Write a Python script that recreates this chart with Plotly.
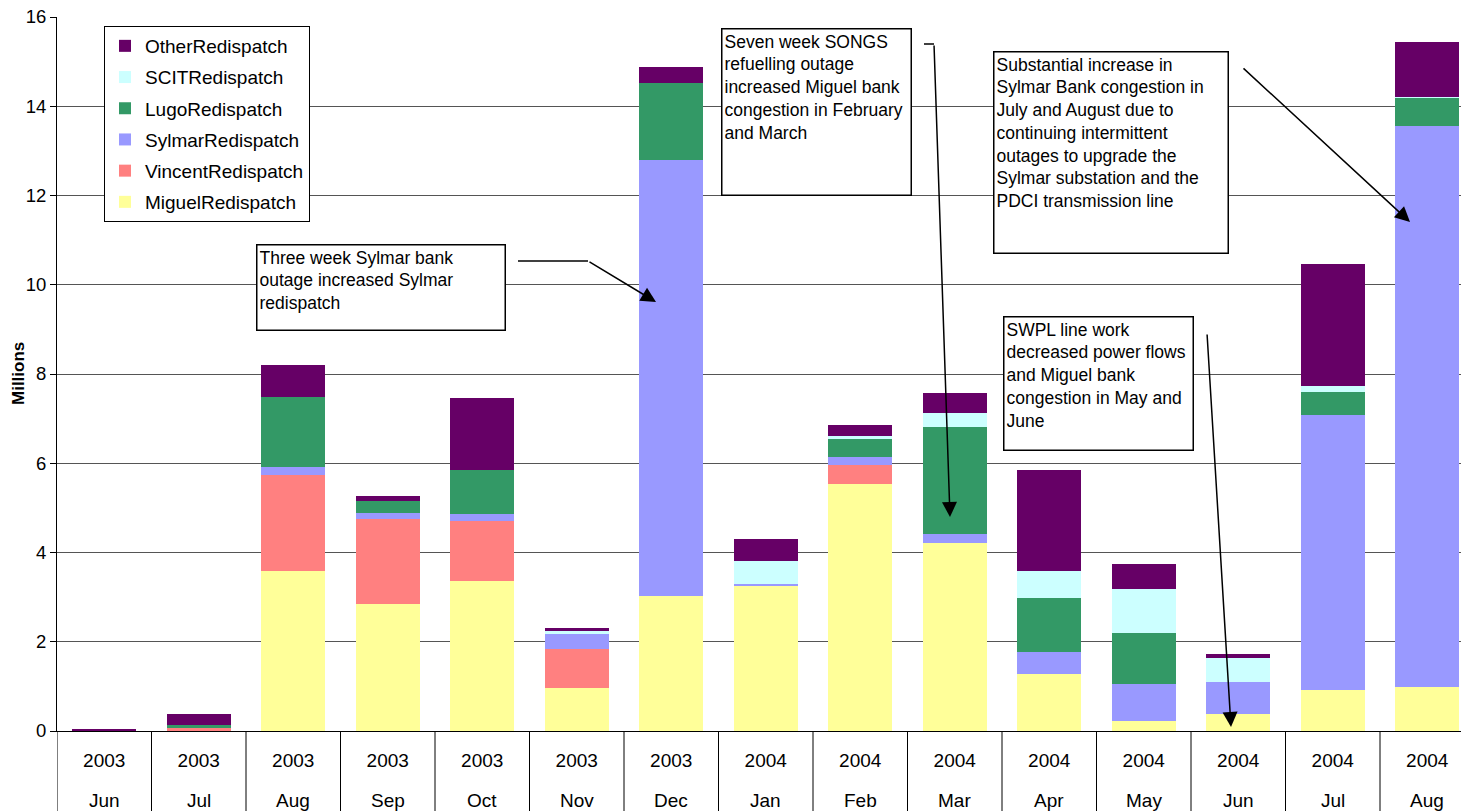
import plotly.graph_objects as go

# Monthly redispatch cost by congestion area (millions)
years = ["2003", "2003", "2003", "2003", "2003", "2003", "2003",
         "2004", "2004", "2004", "2004", "2004", "2004", "2004", "2004"]
months = ["Jun", "Jul", "Aug", "Sep", "Oct", "Nov", "Dec",
          "Jan", "Feb", "Mar", "Apr", "May", "Jun", "Jul", "Aug"]

miguel = [0.00, 0.02, 3.585, 2.85, 3.36, 0.96, 3.025,
          3.265, 5.535, 4.21, 1.28, 0.22, 0.38, 0.92, 0.99]
vincent = [0.00, 0.04, 2.145, 1.90, 1.34, 0.87, 0.00,
           0.00, 0.425, 0.00, 0.00, 0.00, 0.00, 0.00, 0.00]
sylmar = [0.00, 0.00, 0.19, 0.135, 0.16, 0.34, 9.775,
          0.03, 0.18, 0.205, 0.49, 0.83, 0.72, 6.16, 12.57]
lugo = [0.00, 0.07, 1.56, 0.265, 0.99, 0.00, 1.71,
        0.00, 0.405, 2.395, 1.21, 1.15, 0.00, 0.52, 0.63]
scit = [0.00, 0.00, 0.00, 0.00, 0.00, 0.07, 0.00,
        0.52, 0.075, 0.315, 0.605, 0.98, 0.54, 0.13, 0.02]
other = [0.05, 0.25, 0.72, 0.12, 1.61, 0.07, 0.37,
         0.49, 0.24, 0.45, 2.265, 0.56, 0.09, 2.73, 1.23]

series = [
    ("MiguelRedispatch", miguel, "#FFFF99"),
    ("VincentRedispatch", vincent, "#FF8080"),
    ("SylmarRedispatch", sylmar, "#9999FF"),
    ("LugoRedispatch", lugo, "#339966"),
    ("SCITRedispatch", scit, "#CCFFFF"),
    ("OtherRedispatch", other, "#660066"),
]

FONT = "Arial, Liberation Sans, sans-serif"
xs = list(range(len(months)))

fig = go.Figure()
for rank, (name, vals, color) in enumerate(series):
    fig.add_trace(go.Bar(
        x=xs, y=vals, name=name, legendgroup=name,
        legendrank=1000 - rank,
        marker=dict(color=color, line=dict(width=0)),
    ))

# pixel geometry of the plot area
W, H = 1461, 811
L, T, B = 57, 17, 80
plot_w = W - L
plot_h = H - T - B
cat_w = 94.5
x_max = plot_w / cat_w - 0.5


def xd(px):
    return (px - L) / cat_w - 0.5


def yd(py):
    return (T + plot_h - py) / plot_h * 16


shapes = []
# category dividers below the axis
for k in range(len(months) + 1):
    xb = k - 0.5
    if xb > x_max:
        break
    shapes.append(dict(type="line", xref="x", yref="paper", x0=xb, x1=xb,
                       y0=0, y1=-B / plot_h, line=dict(color="black", width=1)))

annotations = []
for i, m in enumerate(months):
    annotations.append(dict(x=i, y=(T + plot_h - 800) / plot_h, xref="x", yref="paper",
                            text=m, showarrow=False, xanchor="center", yanchor="middle",
                            font=dict(family=FONT, size=19, color="black")))

annotations.append(dict(x=-39 / plot_w, y=0.5, xref="paper", yref="paper",
                        text="<b>Millions</b>", textangle=-90, showarrow=False,
                        xanchor="center", yanchor="middle",
                        font=dict(family=FONT, size=17, color="black")))

BW, PAD = 1.5, 2


def note(text, left, top, w, h):
    annotations.append(dict(
        x=xd(left), y=yd(top), xref="x", yref="y", text=text, showarrow=False,
        xanchor="left", yanchor="top", align="left", valign="top",
        width=w - 2 * (BW + PAD), height=h - 2 * (BW + PAD),
        bgcolor="white", bordercolor="black", borderwidth=BW, borderpad=PAD,
        font=dict(family=FONT, size=17.5, color="black")))


def arrow(tail, head):
    annotations.append(dict(
        x=xd(head[0]), y=yd(head[1]), ax=xd(tail[0]), ay=yd(tail[1]),
        xref="x", yref="y", axref="x", ayref="y", text="", showarrow=True,
        arrowhead=2, arrowsize=2, arrowwidth=1.5, arrowcolor="black"))


def segment(p0, p1):
    shapes.append(dict(type="line", xref="x", yref="y",
                       x0=xd(p0[0]), y0=yd(p0[1]), x1=xd(p1[0]), y1=yd(p1[1]),
                       line=dict(color="black", width=1.5)))


note("Three week Sylmar bank<br>outage increased Sylmar<br>redispatch", 256, 244, 250, 87)
segment((518, 261), (588, 261))
arrow((588, 261), (656, 302))

note("Seven week SONGS<br>refuelling outage<br>increased Miguel bank<br>congestion in February<br>and March",
     721, 28, 191, 168)
segment((924, 44), (934, 44))
arrow((934, 44), (950, 517))

note("Substantial increase in<br>Sylmar Bank congestion in<br>July and August due to<br>continuing intermittent<br>"
     "outages to upgrade the<br>Sylmar substation and the<br>PDCI transmission line",
     993, 51, 236, 203)
arrow((1242, 67), (1410, 222))

note("SWPL line work<br>decreased power flows<br>and Miguel bank<br>congestion in May and<br>June",
     1003, 316, 191, 135)
arrow((1207, 333), (1231, 727))

fig.update_layout(
    width=W, height=H,
    margin=dict(l=L, r=0, t=T, b=B, autoexpand=False),
    barmode="stack", bargap=0.32,
    plot_bgcolor="white", paper_bgcolor="white",
    font=dict(family=FONT, color="black"),
    xaxis=dict(range=[-0.5, x_max], tickvals=xs, ticktext=years,
               showgrid=False, zeroline=False, showline=True, linecolor="black",
               linewidth=1, ticks="", ticklabelstandoff=12,
               tickfont=dict(family=FONT, size=19, color="black"), fixedrange=True),
    yaxis=dict(range=[0, 16], dtick=2, showgrid=True, gridcolor="#555555", gridwidth=1,
               zeroline=False, showline=True, linecolor="black", linewidth=1,
               ticks="outside", ticklen=6, tickcolor="black",
               tickfont=dict(family=FONT, size=18.5, color="black"), fixedrange=True),
    legend=dict(x=(104 - L) / plot_w, y=(T + plot_h - 26) / plot_h,
                xanchor="left", yanchor="top", traceorder="grouped",
                tracegroupgap=3.5, bgcolor="white", bordercolor="black", borderwidth=1,
                font=dict(family=FONT, size=19, color="black")),
    shapes=shapes, annotations=annotations, showlegend=True,
)

fig.write_html("out.html")
